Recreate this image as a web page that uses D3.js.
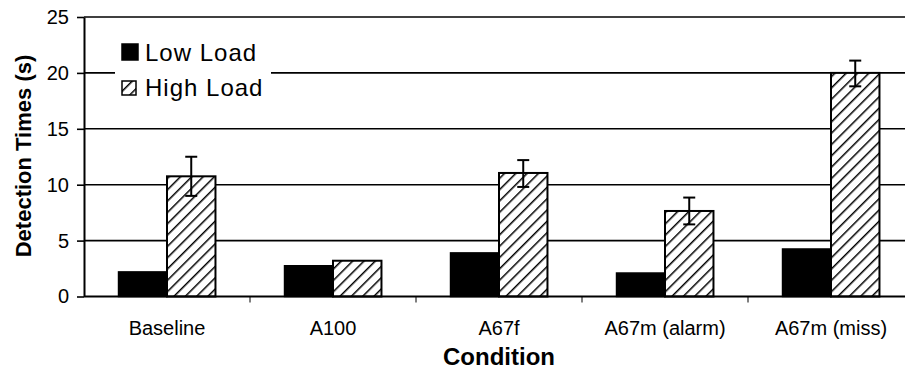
<!DOCTYPE html>
<html>
<head>
<meta charset="utf-8">
<script src="https://cdnjs.cloudflare.com/ajax/libs/d3/7.8.5/d3.min.js"></script>
<style>
  body { margin: 0; background: #fff; }
  text { font-family: "Liberation Sans", Arial, sans-serif; fill: #000; }
</style>
</head>
<body>
<div class="chart"></div>
<script>
var categories = ["Baseline", "A100", "A67f", "A67m (alarm)", "A67m (miss)"];
var series = ["Low Load", "High Load"];
var lowLoad = [2.2, 2.75, 3.9, 2.1, 4.25];
var highLoad = [10.75, 3.2, 11.05, 7.65, 20.0];
var highErrLo = [9.0, null, 9.8, 6.45, 18.8];
var highErrHi = [12.5, null, 12.2, 8.85, 21.1];
var yTicks = [0, 5, 10, 15, 20, 25];

var width = 905,
    height = 379,
    plotLeft = 84,
    plotRight = 914,
    plotTop = 17,
    plotBottom = 296.5;

var svg = d3.select(".chart").append("svg")
    .attr("width", width)
    .attr("height", height);

// hatch for high load
var defs = svg.append("defs");
defs.append("pattern")
    .attr("id", "hatch")
    .attr("patternUnits", "userSpaceOnUse")
    .attr("width", 8)
    .attr("height", 8)
    .attr("patternTransform", "rotate(45)")
  .append("line")
    .attr("x1", 0).attr("y1", 0)
    .attr("x2", 0).attr("y2", 8)
    .style("stroke", "#000")
    .style("stroke-width", 3);

var y = d3.scaleLinear().domain([0, 25]).range([plotBottom, plotTop]);
var x = d3.scaleBand().domain(categories).range([plotLeft, plotRight])
    .paddingInner(0.416).paddingOuter(0.208);
var xs = d3.scaleBand().domain(series).range([0, x.bandwidth()]);

// gridlines
svg.append("g").selectAll("line")
    .data(yTicks.filter(function(d) { return d > 0; }))
    .enter().append("line")
    .attr("x1", plotLeft).attr("x2", plotRight)
    .attr("y1", function(d) { return y(d); })
    .attr("y2", function(d) { return y(d); })
    .style("stroke", "#000")
    .style("stroke-width", 1.6);

// legend box hides the gridline behind it
svg.append("rect")
    .attr("x", 115).attr("y", 34)
    .attr("width", 156).attr("height", 72)
    .style("fill", "#fff");

var rows = categories.map(function(c, i) {
    return {cat: c, low: lowLoad[i], high: highLoad[i], lo: highErrLo[i], hi: highErrHi[i]};
});

var g = svg.append("g").selectAll("g")
    .data(rows)
    .enter().append("g")
    .attr("transform", function(d) { return "translate(" + x(d.cat) + ",0)"; });

g.append("rect")
    .attr("x", xs("Low Load"))
    .attr("y", function(d) { return y(d.low); })
    .attr("width", xs.bandwidth())
    .attr("height", function(d) { return plotBottom - y(d.low); })
    .style("fill", "#000")
    .style("stroke", "#000")
    .style("stroke-width", 1.5);

g.append("rect")
    .attr("x", xs("High Load"))
    .attr("y", function(d) { return y(d.high); })
    .attr("width", xs.bandwidth())
    .attr("height", function(d) { return plotBottom - y(d.high); })
    .style("fill", "#fff");
g.append("rect")
    .attr("x", xs("High Load"))
    .attr("y", function(d) { return y(d.high); })
    .attr("width", xs.bandwidth())
    .attr("height", function(d) { return plotBottom - y(d.high); })
    .style("fill", "url(#hatch)")
    .style("stroke", "#000")
    .style("stroke-width", 2);

// error bars
var eb = g.filter(function(d) { return d.hi != null; }).append("g")
    .attr("transform", "translate(" + (xs("High Load") + xs.bandwidth() / 2) + ",0)")
    .style("stroke", "#000")
    .style("stroke-width", 2);
eb.append("line")
    .attr("x1", 0).attr("x2", 0)
    .attr("y1", function(d) { return y(d.hi); })
    .attr("y2", function(d) { return y(d.lo); });
eb.append("line")
    .attr("x1", -6).attr("x2", 6)
    .attr("y1", function(d) { return y(d.hi); })
    .attr("y2", function(d) { return y(d.hi); });
eb.append("line")
    .attr("x1", -6).attr("x2", 6)
    .attr("y1", function(d) { return y(d.lo); })
    .attr("y2", function(d) { return y(d.lo); });

// y axis
var yAxis = svg.append("g")
    .attr("transform", "translate(" + plotLeft + ",0)")
    .call(d3.axisLeft(y).tickValues(yTicks).tickSize(7).tickPadding(8).tickSizeOuter(0));
yAxis.select(".domain").style("stroke-width", 2);
yAxis.selectAll(".tick line").style("stroke-width", 1.6);
yAxis.selectAll("text")
    .style("font-size", "20px")
    .style("fill", "#000")
    .style("font-family", "'Liberation Sans', Arial, sans-serif");

// x axis
svg.append("line")
    .attr("x1", plotLeft).attr("x2", plotRight)
    .attr("y1", plotBottom).attr("y2", plotBottom)
    .style("stroke", "#000")
    .style("stroke-width", 2);

svg.append("g").selectAll("line")
    .data(categories.slice(1))
    .enter().append("line")
    .attr("x1", function(d) { return x(d) - x.step() * x.paddingInner() / 2; })
    .attr("x2", function(d) { return x(d) - x.step() * x.paddingInner() / 2; })
    .attr("y1", plotBottom).attr("y2", plotBottom + 6)
    .style("stroke", "#000")
    .style("stroke-width", 1);

svg.append("g").selectAll("text")
    .data(categories)
    .enter().append("text")
    .attr("x", function(d) { return x(d) + x.bandwidth() / 2; })
    .attr("y", 335)
    .attr("text-anchor", "middle")
    .style("font-size", "20px")
    .text(function(d) { return d; });

// titles
svg.append("text")
    .attr("x", 499).attr("y", 365)
    .attr("text-anchor", "middle")
    .style("font-size", "24px")
    .style("font-weight", "bold")
    .text("Condition");

svg.append("text")
    .attr("transform", "translate(31,156) rotate(-90)")
    .attr("text-anchor", "middle")
    .style("font-size", "22px")
    .style("font-weight", "bold")
    .text("Detection Times (s)");

// legend
var legend = svg.append("g").selectAll("g")
    .data(series)
    .enter().append("g")
    .attr("transform", function(d, i) { return "translate(122," + (44 + i * 35) + ")"; });
legend.append("rect")
    .attr("x", 0).attr("y", function(d, i) { return i ? 2 : 0; })
    .attr("width", function(d, i) { return i ? 14 : 16; })
    .attr("height", function(d, i) { return i ? 14 : 16; })
    .style("fill", function(d, i) { return i ? "url(#hatch)" : "#000"; })
    .style("stroke", "#000")
    .style("stroke-width", 1.5);
legend.append("text")
    .attr("x", 23).attr("y", 17)
    .style("font-size", "24px")
    .style("letter-spacing", "1px")
    .text(function(d) { return d; });
</script>
</body>
</html>
